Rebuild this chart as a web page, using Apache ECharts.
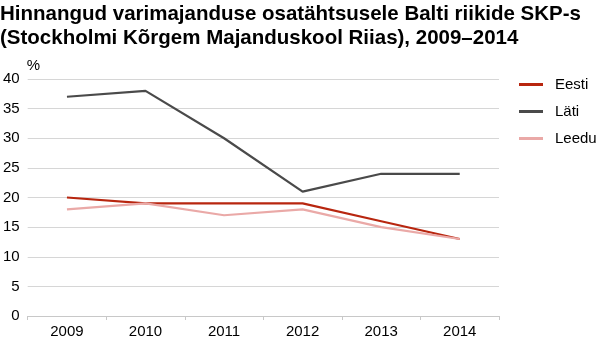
<!DOCTYPE html>
<html>
<head>
<meta charset="utf-8">
<script src="https://cdn.jsdelivr.net/npm/echarts@6/dist/echarts.min.js"></script>
<style>
  html, body { margin: 0; padding: 0; background: #ffffff; }
  #chart { width: 605px; height: 345px; }
</style>
</head>
<body>
<div id="chart"></div>
<script>
// Varimajanduse osatähtsus SKP-s (%), Balti riigid
const years = ['2009', '2010', '2011', '2012', '2013', '2014'];
const eesti = [20, 19, 19, 19, 16, 13];
const lati = [37, 38, 30, 21, 24, 24];
const leedu = [18, 19, 17, 18, 15, 13];
const seriesNames = ['Eesti', 'Läti', 'Leedu'];
const seriesColors = ['#b8260f', '#4a4a4a', '#eaa9a7'];

const font = 'Arial, "Liberation Sans", sans-serif';
const chart = echarts.init(document.getElementById('chart'), null, { renderer: 'canvas' });

const makeSeries = (name, data, color) => ({
  name,
  type: 'line',
  data,
  symbol: 'none',
  smooth: false,
  lineStyle: { color, width: 2.2 },
  itemStyle: { color },
  z: 3
});

chart.setOption({
  animation: false,
  backgroundColor: '#ffffff',
  title: {
    text: 'Hinnangud varimajanduse osatähtsusele Balti riikide SKP-s\n(Stockholmi Kõrgem Majanduskool Riias), 2009–2014',
    left: 0,
    top: 0,
    padding: [2, 0, 0, 0],
    textStyle: { fontFamily: font, fontWeight: 'bold', fontSize: 20.5, lineHeight: 24, color: '#000' }
  },
  legend: {
    orient: 'vertical',
    left: 519,
    top: 77,
    padding: 0,
    itemWidth: 24,
    itemHeight: 3,
    itemGap: 12,
    icon: 'rect',
    textStyle: { fontFamily: font, fontSize: 15, color: '#000', padding: [0, 0, 0, 7] },
    data: seriesNames
  },
  grid: { left: 25, top: 79, width: 474, height: 237, containLabel: false },
  xAxis: {
    type: 'category',
    data: years,
    boundaryGap: true,
    axisLine: { lineStyle: { color: '#c8c8c8', width: 1 } },
    axisTick: { show: true, alignWithLabel: false, length: 4, lineStyle: { color: '#c8c8c8' } },
    axisLabel: { fontFamily: font, fontSize: 15, color: '#000', margin: 8 }
  },
  yAxis: {
    type: 'value',
    min: 0,
    max: 40,
    interval: 5,
    name: '%',
    nameLocation: 'end',
    nameGap: 6,
    nameTextStyle: { fontFamily: font, fontSize: 15, color: '#000', align: 'left', padding: [0, 0, 0, -1] },
    axisLine: { show: false },
    axisTick: { show: false },
    axisLabel: { fontFamily: font, fontSize: 15, color: '#000', margin: 8 },
    splitLine: { lineStyle: { color: '#d6d6d6', width: 1 } }
  },
  series: [
    makeSeries(seriesNames[0], eesti, seriesColors[0]),
    makeSeries(seriesNames[1], lati, seriesColors[1]),
    makeSeries(seriesNames[2], leedu, seriesColors[2])
  ]
});
</script>
</body>
</html>
